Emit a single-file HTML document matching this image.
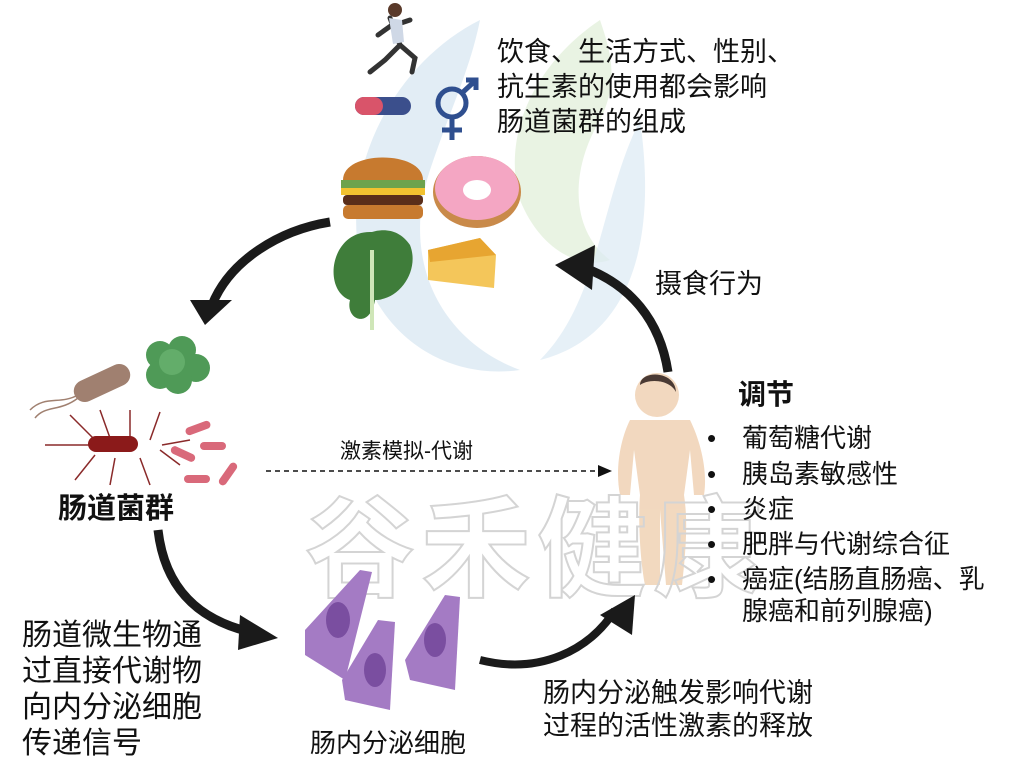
<!DOCTYPE html>
<html><head><meta charset="utf-8"><style>
html,body{margin:0;padding:0;background:#fff;width:1024px;height:767px;overflow:hidden}
svg{display:block}
text{font-family:"Liberation Sans","Noto Sans CJK SC",sans-serif}
</style></head><body>
<svg width="1024" height="767" viewBox="0 0 1024 767" xmlns="http://www.w3.org/2000/svg">
<!-- watermark logo -->
<path d="M480,20 C400,60 340,160 360,260 C380,340 450,380 520,370 C440,340 400,260 430,170 C450,110 470,70 480,20z" fill="#dbe9f3" opacity="0.8"/>
<path d="M600,20 C540,60 500,130 520,200 C540,250 580,270 610,260 C570,230 570,170 600,120 C620,80 610,50 600,20z" fill="#e4f0dc" opacity="0.8"/>
<path d="M640,120 C600,200 600,300 540,360 C620,340 660,260 640,120z" fill="#dbe9f3" opacity="0.7"/>

<!-- runner -->
<circle cx="395" cy="10" r="7" fill="#5a3a2a"/>
<path d="M390,18 L400,45 L385,60 L370,72 M400,45 L415,58 L412,72 M392,25 L378,35 M395,25 L410,20" stroke="#333" stroke-width="5" fill="none" stroke-linecap="round"/>
<path d="M389,18 L402,20 L404,42 L393,44z" fill="#cfd8e6"/>
<!-- pill -->
<rect x="355" y="97" width="56" height="18" rx="9" fill="#3b4f8c"/>
<rect x="355" y="97" width="28" height="18" rx="9" fill="#d9546a"/>
<!-- gender symbol -->
<g stroke="#2f4f8f" stroke-width="5" fill="none">
<circle cx="452" cy="103" r="14"/><path d="M452,117 V140 M442,130 H462 M462,93 L476,80 M466,80 H476 V90"/>
</g>
<!-- burger -->
<path d="M343,180 C343,150 423,150 423,180z" fill="#c77a2f"/>
<rect x="341" y="180" width="84" height="8" fill="#6da34d"/>
<rect x="341" y="188" width="84" height="7" fill="#f2c230"/>
<rect x="343" y="195" width="80" height="10" rx="4" fill="#5a2e1a"/>
<rect x="343" y="205" width="80" height="14" rx="5" fill="#c77a2f"/>
<!-- donut -->
<ellipse cx="477" cy="192" rx="44" ry="36" fill="#c98a4a"/>
<ellipse cx="477" cy="188" rx="42" ry="32" fill="#f4a6c3"/>
<ellipse cx="477" cy="190" rx="14" ry="10" fill="#fff"/>
<!-- lettuce -->
<path d="M372,232 C330,230 322,290 350,300 C345,320 370,330 375,300 C400,300 420,270 410,245 C400,230 385,228 372,232z" fill="#3f7d3a"/>
<path d="M372,250 L372,330" stroke="#cfe6b8" stroke-width="4"/>
<!-- cheese -->
<path d="M428,250 L480,238 L496,255 L494,288 L428,280z" fill="#f4c65a"/>
<path d="M428,250 L480,238 L496,255 L430,262z" fill="#e7a531"/>
<!-- arrows -->
<path d="M330,222 C280,230 230,260 212,305" stroke="#1a1a1a" stroke-width="9" fill="none"/>
<path d="M190,300 L205,325 L232,300z" fill="#1a1a1a"/>
<path d="M668,372 C660,320 630,285 585,268" stroke="#1a1a1a" stroke-width="9" fill="none"/>
<path d="M555,265 L595,245 L592,290z" fill="#1a1a1a"/>
<!-- bacteria -->
<rect x="72" y="372" width="60" height="22" rx="11" fill="#a08070" transform="rotate(-25 102 383)"/>
<path d="M78,395 C60,405 45,395 30,410 M78,398 C60,412 45,405 35,418" stroke="#a08070" stroke-width="1.5" fill="none"/>
<g fill="#4f9a57"><circle cx="160" cy="355" r="14"/><circle cx="182" cy="350" r="14"/><circle cx="196" cy="368" r="14"/><circle cx="160" cy="375" r="14"/><circle cx="178" cy="380" r="14"/><circle cx="172" cy="362" r="13" fill="#63ad6a"/></g>
<g stroke="#8a2a2a" stroke-width="1.5" fill="none">
<path d="M90,445 L45,445 M95,440 L70,415 M110,438 L100,410 M130,438 L130,410 M150,440 L160,412 M95,455 L75,480 M115,458 L110,485 M140,458 L150,485 M160,450 L180,465 M162,445 L190,440"/></g>
<rect x="88" y="436" width="50" height="16" rx="8" fill="#8b1a1a"/>
<g fill="#d9697a"><rect x="185" y="424" width="26" height="8" rx="4" transform="rotate(-20 198 428)"/><rect x="200" y="442" width="26" height="8" rx="4"/><rect x="170" y="450" width="26" height="8" rx="4" transform="rotate(25 183 454)"/><rect x="184" y="475" width="26" height="8" rx="4"/><rect x="215" y="470" width="26" height="8" rx="4" transform="rotate(-55 228 474)"/></g>
<!-- dashed -->
<line x1="266" y1="471" x2="600" y2="471" stroke="#111" stroke-width="1.5" stroke-dasharray="5,4"/>
<path d="M598,465 L612,471 L598,477z" fill="#111"/>
<!-- child -->
<g fill="#f0d2b4" opacity="0.85">
<circle cx="657" cy="395" r="22"/>
<path d="M630,420 C620,440 615,470 620,495 L630,495 L634,450 L640,495 C638,520 640,560 645,585 L660,585 L660,510 L666,585 L682,585 C686,550 688,520 684,495 L690,450 L694,495 L704,495 C708,470 700,440 690,420z"/>
</g>
<path d="M640,385 C640,370 675,370 676,392 C670,380 650,378 640,385z" fill="#4a3a34"/>
<!-- watermark text -->
<text x="305" y="588" font-size="110" fill="none" stroke="#d4d4d4" stroke-width="2" font-weight="bold" letter-spacing="6">谷禾健康</text>
<!-- arrow down -->
<path d="M158,530 C165,590 200,620 250,632" stroke="#1a1a1a" stroke-width="9" fill="none"/>
<path d="M240,615 L278,638 L238,650z" fill="#1a1a1a"/>
<!-- cells -->
<g fill="#a47bc4">
<path d="M360,570 L372,572 L345,680 L305,655 L305,630z"/>
<path d="M378,620 L395,622 L390,710 L345,700 L342,680z"/>
<path d="M445,595 L460,597 L455,690 L410,680 L405,660z"/>
</g>
<g fill="#7a4ea0"><ellipse cx="338" cy="620" rx="12" ry="18"/><ellipse cx="375" cy="670" rx="11" ry="17"/><ellipse cx="435" cy="640" rx="11" ry="17"/></g>
<!-- arrow up right -->
<path d="M480,660 C540,675 590,650 615,610" stroke="#1a1a1a" stroke-width="8" fill="none"/>
<path d="M600,615 L635,595 L632,635z" fill="#1a1a1a"/>

<g fill="#111">
<text x="497" y="61" font-size="27">饮食、生活方式、性别、</text>
<text x="497" y="96" font-size="27">抗生素的使用都会影响</text>
<text x="497" y="131" font-size="27">肠道菌群的组成</text>
<text x="655" y="293" font-size="27">摄食行为</text>
<text x="58" y="518" font-size="29" font-weight="bold">肠道菌群</text>
<text x="340" y="458" font-size="21">激素模拟-代谢</text>
<text x="738" y="404" font-size="28" font-weight="bold">调节</text>
<g font-size="26">
<text x="707" y="447">•</text><text x="742" y="447">葡萄糖代谢</text>
<text x="707" y="483">•</text><text x="742" y="483">胰岛素敏感性</text>
<text x="707" y="518">•</text><text x="742" y="518">炎症</text>
<text x="707" y="553">•</text><text x="742" y="553">肥胖与代谢综合征</text>
<text x="707" y="588">•</text><text x="742" y="588">癌症(结肠直肠癌、乳</text>
<text x="742" y="620">腺癌和前列腺癌)</text>
</g>
<text x="310" y="752" font-size="26">肠内分泌细胞</text>
<g font-size="30">
<text x="22" y="645">肠道微生物通</text>
<text x="22" y="681">过直接代谢物</text>
<text x="22" y="717">向内分泌细胞</text>
<text x="22" y="753">传递信号</text>
</g>
<text x="543" y="702" font-size="27">肠内分泌触发影响代谢</text>
<text x="543" y="735" font-size="27">过程的活性激素的释放</text>
</g>
</svg>
</body></html>
